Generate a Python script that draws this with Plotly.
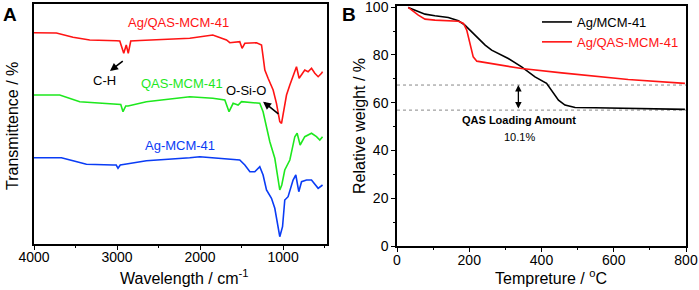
import plotly.graph_objects as go

# ---------------- Panel A: FTIR spectra (arbitrary transmittance units) ----------------
wn_agqas = [4000, 3730, 3530, 3329, 3007, 2967, 2919, 2889, 2865, 2835, 2725, 2449, 2124, 1847, 1682,
            1642, 1522, 1494, 1461, 1320, 1260, 1241, 1220, 1181, 1120, 1080, 1040, 1019, 1000, 959,
            919, 859, 839, 807, 778, 739, 699, 658, 618, 578, 537, 525]
t_agqas = [211.3, 211, 206.7, 204, 203.3, 203, 190.7, 199, 190.7, 203, 203.5, 204.7, 205.7, 209, 204,
           201.3, 202.3, 195.7, 200.7, 201.3, 199, 187.3, 174, 165.7, 154, 140.7, 122.3, 120.7, 130.7, 149,
           159, 174, 177.3, 165.7, 169, 174, 172.3, 175.7, 170.7, 167.3, 170.7, 172.3]

wn_qas = [4000, 3690, 3449, 3007, 2955, 2928, 2895, 2867, 2646, 2124, 1847, 1702, 1651, 1602, 1542,
          1501, 1281, 1241, 1200, 1160, 1100, 1060, 1040, 1016, 980, 919, 859, 831, 795, 739,
          658, 598, 558, 525]
t_qas = [149, 149, 142.3, 140, 139.5, 132.3, 138, 138, 142.3, 147.3, 145.7, 144, 132.3, 140.7, 139,
         142.3, 140.7, 132.3, 115.7, 102.3, 85.7, 62.3, 54, 59, 74, 84, 107.3, 110.7, 99, 107.3,
         110.7, 107.3, 104, 107.3]

wn_ag = [4000, 3670, 3530, 3369, 3048, 3010, 2988, 2961, 2887, 2646, 2124, 2004, 1522, 1461, 1400,
         1341, 1281, 1241, 1200, 1140, 1100, 1060, 1040, 1007, 980, 940, 880, 847, 811, 778,
         718, 658, 578, 525]
t_ag = [86.3, 86.3, 83.3, 79.7, 79, 79, 75.7, 79, 80, 83.3, 86.3, 87.3, 84, 79, 72.3,
        72.3, 77.3, 69, 54, 45.7, 35.7, 17.3, 7.3, 17.3, 44, 47.3, 64, 69, 52.3, 62.3,
        64, 64, 55.7, 59]

ftir_ticks = [4000, 3000, 2000, 1000]

# ---------------- Panel B: TGA ----------------
temp_ag = [31, 50, 77.5, 105, 142, 170, 188, 216, 244, 262, 308, 345, 382, 414, 428, 447, 465, 493, 548, 640, 797]
w_ag = [99.9, 98.7, 97.1, 96.4, 95.7, 94.3, 92.5, 88.3, 84.1, 82, 78.5, 75, 70.8, 68.1, 65.3, 61.1, 59, 58,
        57.9, 57.6, 57.2]
temp_agqas = [31, 59, 77.5, 105, 170, 184, 193, 202, 211, 221, 271, 345, 456, 548, 640, 797]
w_agqas = [99.9, 96.7, 95, 94.6, 94.1, 93.2, 90.4, 84.8, 79.2, 77.4, 76.2, 74.3, 72.5, 71.1, 69.7, 68.1]

ref_levels = [67.4, 56.9]
ref_span = [0, 800]
loading_temp = 336
loading_text = "10.1%"

RED = "#ff1414"
GREEN = "#1ee81e"
BLUE = "#0a3cf5"
FONT = "Liberation Sans, Arial, sans-serif"

fig = go.Figure()

for wn, t, c in [(wn_agqas, t_agqas, RED), (wn_qas, t_qas, GREEN), (wn_ag, t_ag, BLUE)]:
    fig.add_trace(go.Scatter(x=wn, y=t, mode="lines", line=dict(color=c, width=1.6),
                             xaxis="x", yaxis="y", showlegend=False, hoverinfo="skip"))

for lvl in ref_levels:
    fig.add_trace(go.Scatter(x=ref_span, y=[lvl, lvl], mode="lines",
                             line=dict(color="#888888", width=1, dash="dot"),
                             xaxis="x2", yaxis="y2", showlegend=False, hoverinfo="skip"))

fig.add_trace(go.Scatter(x=temp_ag, y=w_ag, mode="lines", line=dict(color="black", width=1.6),
                         name="Ag/MCM-41", xaxis="x2", yaxis="y2"))
fig.add_trace(go.Scatter(x=temp_agqas, y=w_agqas, mode="lines", line=dict(color=RED, width=1.6),
                         name='<span style="color:%s">Ag/QAS-MCM-41</span>' % RED, xaxis="x2", yaxis="y2"))

axis_common = dict(showline=True, mirror=True, linecolor="black", linewidth=1.5, automargin=False,
                   showgrid=False, zeroline=False, ticklen=4, tickwidth=1.2,
                   ticklabeloverflow="allow",
                   tickcolor="black", tickfont=dict(size=14, color="black", family=FONT))

W, H = 699, 290
fig.update_layout(
    width=W, height=H,
    margin=dict(l=0, r=0, t=0, b=0, pad=0, autoexpand=False),
    paper_bgcolor="white", plot_bgcolor="white",
    font=dict(family=FONT, color="black"),
    xaxis=dict(domain=[34 / W, 326.7 / W], range=[4000, 475], tickvals=ftir_ticks, ticks="outside",
               ticklabelstandoff=-5,
               minor=dict(ticks="outside", ticklen=2, tickwidth=1, dtick=500, tick0=500),
               anchor="y", **axis_common),
    yaxis=dict(domain=[1 - 244 / H, 1 - 4 / H], range=[0, 240], showticklabels=False, ticks="",
               anchor="x", **axis_common),
    xaxis2=dict(domain=[397 / W, 686 / W], range=[0, 800], dtick=200, ticks="outside",
                ticklabelstandoff=-4,
                minor=dict(ticks="outside", ticklen=2, tickwidth=1, dtick=100),
                anchor="y2", **axis_common),
    yaxis2=dict(domain=[1 - 246 / H, 1 - 6 / H], range=[0, 100.5], dtick=20, ticks="outside",
                minor=dict(ticks="outside", ticklen=2, tickwidth=1, dtick=10),
                anchor="x2", **axis_common),
    legend=dict(x=537 / W, y=1 - 7 / H, xanchor="left", yanchor="top",
                bgcolor="rgba(0,0,0,0)", font=dict(size=13, family=FONT, color="black"),
                itemwidth=30, tracegroupgap=0),
)

ann = []
# Panel A labels
ann.append(dict(x=2257, y=222, xref="x", yref="y", text="Ag/QAS-MCM-41", showarrow=False,
                font=dict(size=13, color=RED)))
ann.append(dict(x=2220, y=161, xref="x", yref="y", text="QAS-MCM-41", showarrow=False,
                font=dict(size=13, color=GREEN)))
ann.append(dict(x=2245, y=99, xref="x", yref="y", text="Ag-MCM-41", showarrow=False,
                font=dict(size=13, color=BLUE)))
ann.append(dict(x=3147, y=164, xref="x", yref="y", text="C-H", showarrow=False,
                font=dict(size=13, color="black")))
ann.append(dict(x=1441, y=154, xref="x", yref="y", text="O-Si-O", showarrow=False,
                font=dict(size=13, color="black")))
# arrows
ann.append(dict(x=3085, y=173, ax=2913, ay=184, xref="x", yref="y", axref="x", ayref="y",
                text="", showarrow=True, arrowhead=2, arrowsize=1, arrowwidth=1.6, arrowcolor="black"))
ann.append(dict(x=1241, y=142.3, ax=1039, ay=129, xref="x", yref="y", axref="x", ayref="y",
                text="", showarrow=True, arrowhead=2, arrowsize=1, arrowwidth=1.6, arrowcolor="black"))
# Panel B annotations
ann.append(dict(x=loading_temp, y=ref_levels[0], ax=loading_temp, ay=ref_levels[1],
                xref="x2", yref="y2", axref="x2", ayref="y2", text="", showarrow=True,
                arrowhead=2, startarrowhead=2, arrowside="end+start", arrowsize=1,
                arrowwidth=1.3, arrowcolor="black"))
ann.append(dict(x=338, y=52.7, xref="x2", yref="y2", text="<b>QAS Loading Amount</b>", showarrow=False,
                font=dict(size=11, color="black")))
ann.append(dict(x=338, y=45.6, xref="x2", yref="y2", text=loading_text, showarrow=False,
                font=dict(size=11, color="black")))

def paper_text(px, py, text, size, angle=0):
    return dict(x=px / W, y=1 - py / H, xref="paper", yref="paper", text=text, textangle=angle,
                showarrow=False, xanchor="center", yanchor="middle", font=dict(size=size))

# axis titles
ann.append(paper_text(12, 126, "Transmittence / %", 16, -90))
ann.append(paper_text(184, 277, "Wavelength / cm<sup>-1</sup>", 16))
ann.append(paper_text(359, 126, "Relative weight / %", 16, -90))
ann.append(paper_text(551, 277, "Tempreture / <sup>o</sup>C", 16))
# panel letters
ann.append(paper_text(10, 15, "<b>A</b>", 19))
ann.append(paper_text(349, 15, "<b>B</b>", 19))

fig.update_layout(annotations=ann)
fig.write_html("out.html", config={"displayModeBar": False},
               post_script="document.body.style.margin='0px';document.body.style.padding='0px';")
